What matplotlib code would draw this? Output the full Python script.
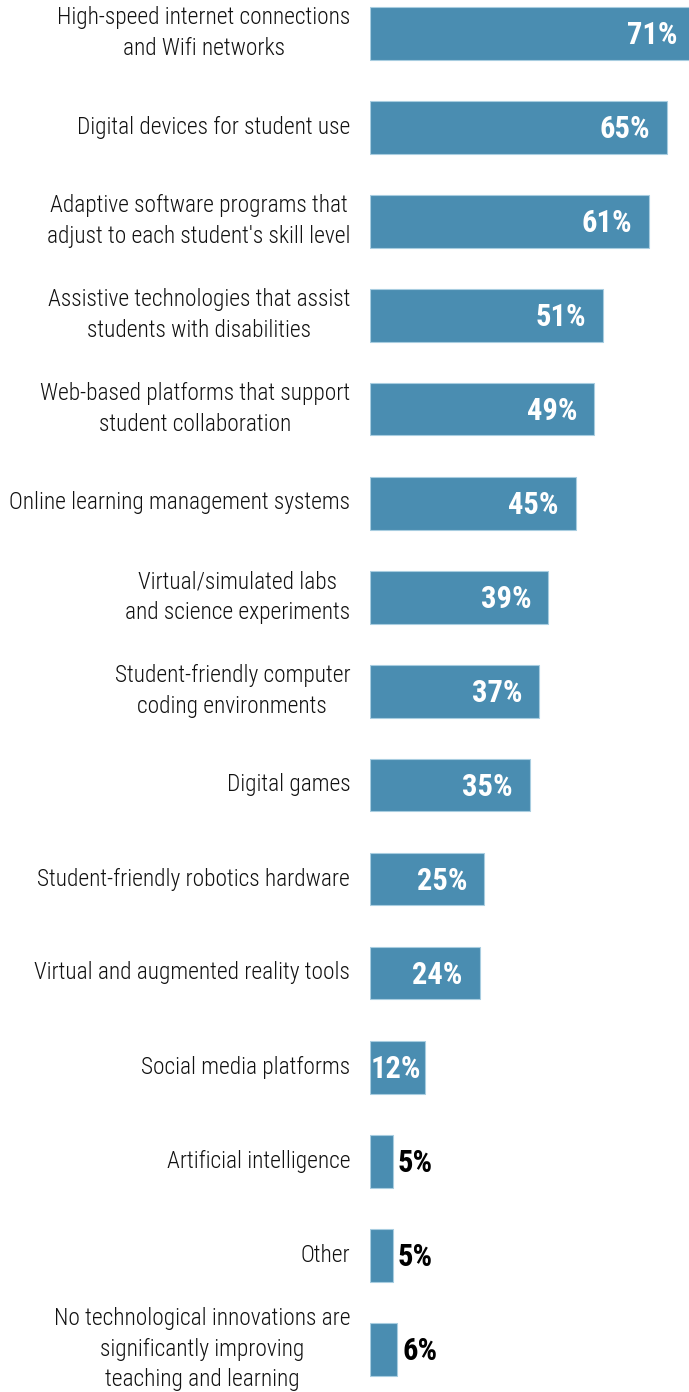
import matplotlib
matplotlib.use("Agg")
import matplotlib.pyplot as plt
from matplotlib import font_manager

categories = [
    "High-speed internet connections\nand Wifi networks",
    "Digital devices for student use",
    "Adaptive software programs that\nadjust to each student's skill level",
    "Assistive technologies that assist\nstudents with disabilities",
    "Web-based platforms that support\nstudent collaboration",
    "Online learning management systems",
    "Virtual/simulated labs\nand science experiments",
    "Student-friendly computer\ncoding environments",
    "Digital games",
    "Student-friendly robotics hardware",
    "Virtual and augmented reality tools",
    "Social media platforms",
    "Artificial intelligence",
    "Other",
    "No technological innovations are\nsignificantly improving\nteaching and learning",
]
values = [71, 65, 61, 51, 49, 45, 39, 37, 35, 25, 24, 12, 5, 5, 6]

installed = {f.name for f in font_manager.fontManager.ttflist}
family = "Roboto Condensed" if "Roboto Condensed" in installed else "Roboto"
plt.rcParams["font.family"] = [family, "DejaVu Sans"]

BAR = "#4a8db1"
EDGE = "#a8cde0"

W, H, DPI = 689, 1392, 100
fig = plt.figure(figsize=(W / DPI, H / DPI), dpi=DPI)

px_per_pct = 4.58
x0_px = 369.6
ax = fig.add_axes([x0_px / W, 0, 1 - x0_px / W, 1])
ax.set_xlim(0, (W - x0_px) / px_per_pct)

step_px = 94.0
first_px = 33.0
ax.set_ylim((H - first_px) / step_px, -first_px / step_px)

ypos = list(range(len(values)))
ax.barh(ypos, values, height=53 / step_px, color=BAR, edgecolor=EDGE,
        linewidth=0.8)

ax.set_yticks(ypos)
ax.set_yticklabels(categories)
for lbl in ax.get_yticklabels():
    lbl.set_fontsize(16.8)
    lbl.set_fontweight("light")
    lbl.set_color("#111111")
    lbl.set_linespacing(1.42)
    lbl.set_multialignment("center")
    lbl.set_verticalalignment("center")
ax.tick_params(axis="y", length=0, pad=14)
ax.tick_params(axis="x", bottom=False, labelbottom=False)
for s in ax.spines.values():
    s.set_visible(False)

val_size = 22
min_center = 5.65
for y, v in zip(ypos, values):
    if v >= 10:
        ax.text(max(v - 9.2, min_center), y + 0.02, f"{v}%", color="white",
                fontsize=val_size, fontweight="bold", ha="center",
                va="center")
    else:
        ax.text(v + 1.2, y + 0.02, f"{v}%", color="black",
                fontsize=val_size, fontweight="bold", ha="left",
                va="center")

fig.savefig("out.png", dpi=DPI)
